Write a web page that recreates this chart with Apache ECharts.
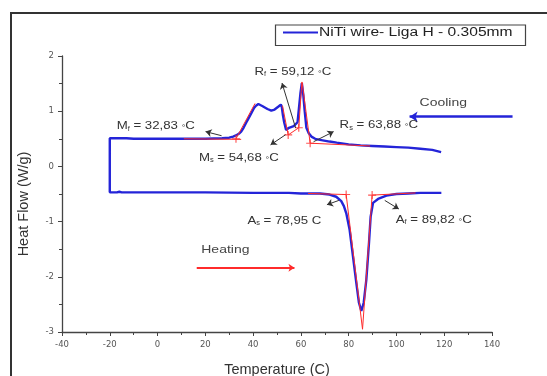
<!DOCTYPE html>
<html>
<head>
<meta charset="utf-8">
<script src="https://cdn.jsdelivr.net/npm/echarts@6/dist/echarts.min.js"></script>
<style>
  html, body { margin: 0; padding: 0; background: #fff; }
  #chart { width: 547px; height: 376px; }
</style>
</head>
<body>
<div id="chart"></div>
<script>
// DSC trace of a NiTi wire: cooling run (120 -> -20 °C) followed by the heating run (-20 -> 120 °C)
const seriesName = 'NiTi wire- Liga H - 0.305mm';

const coolingT = [118.7, 115, 110, 105, 100, 95, 90, 85, 80, 75,
                  72, 68, 66, 64.4, 63.3, 62.3, 61.6, 61.0, 60.4, 59.8,
                  59.2, 58.6, 58.3, 57, 55, 53.8, 53.0, 52.5, 52.0, 51.6,
                  50.5, 49, 47.6, 46, 44, 42.2, 41.2, 40.4, 39.2, 38.2,
                  37.2, 36, 35, 34, 32.8, 31.6, 30, 27, 20, 10,
                  0, -10, -13, -20];
const coolingHF = [0.26, 0.30, 0.32, 0.34, 0.35, 0.36, 0.37, 0.38, 0.40, 0.43,
                   0.45, 0.48, 0.50, 0.54, 0.60, 0.70, 1.00, 1.30, 1.51, 1.32,
                   1.06, 0.80, 0.77, 0.73, 0.70, 0.66, 0.80, 0.92, 1.08, 1.12,
                   1.08, 1.03, 1.01, 1.04, 1.09, 1.13, 1.10, 1.06, 0.96, 0.88,
                   0.80, 0.70, 0.63, 0.59, 0.56, 0.54, 0.52, 0.51, 0.50, 0.50,
                   0.50, 0.50, 0.51, 0.51];

const heatingT = [-20, -17, -16, -15, 0, 20, 40, 55, 60, 65,
                  68, 72, 74.8, 76.9, 78, 79, 80.4, 81.8, 83.2, 84.3,
                  85.3, 86.3, 87.4, 88.5, 89.2, 90.2, 92.3, 95.8, 100, 105,
                  110, 118.8];
const heatingHF = [-0.47, -0.47, -0.46, -0.47, -0.47, -0.47, -0.48, -0.48, -0.49, -0.49,
                   -0.49, -0.51, -0.55, -0.63, -0.72, -0.85, -1.15, -1.63, -2.11, -2.47,
                   -2.62, -2.47, -2.05, -1.39, -0.91, -0.66, -0.59, -0.53, -0.50, -0.49,
                   -0.48, -0.48];

// transformation temperatures from the tangent construction
const transSymbols = ['M', 'M', 'R', 'R', 'A', 'A'];
const transSubs    = ['f', 's', 'f', 's', 's', 'f'];
const transTemps   = [32.83, 54.68, 59.12, 63.88, 78.95, 89.82];
const transUnits   = ['°C', '°C', '°C', '°C', 'C', '°C'];
const transHF      = [0.50, 0.57, 0.70, 0.42, -0.51, -0.52];

// baselines and tangents of the onset / finish construction
const fitLines = [
  [[11, 0.50], [35, 0.49]],
  [[32.83, 0.50], [40.8, 1.14]],
  [[54.68, 0.57], [52.3, 1.10]],
  [[54.68, 0.57], [59.12, 0.70]],
  [[59.12, 0.70], [60.4, 1.53]],
  [[63.88, 0.42], [60.5, 1.53]],
  [[63.88, 0.42], [89, 0.37]],
  [[63, -0.49], [78.95, -0.51]],
  [[78.95, -0.51], [85.8, -2.95]],
  [[89.82, -0.52], [85.8, -2.95]],
  [[89.82, -0.52], [108, -0.48]]
];

// annotation layout (data units): label anchors and pointer arrows
const labelT  = [-17.1, 17.3, 40.6, 76.2, 37.6, 99.7];
const labelHF = [0.728, 0.149, 1.72, 0.746, -0.984, -0.966];
const arrowFrom = [[26.8, 0.556], [53.6, 0.574], [57.8, 0.696], [65.3, 0.447], [75.9, -0.616], [95.1, -0.616]];
const arrowTo   = [[20.1, 0.63], [47.3, 0.39], [52.1, 1.51], [73.7, 0.63], [70.9, -0.694], [101, -0.772]];
const coolingArrow = [[148.6, 0.90], [105.5, 0.90]];
const heatingArrow = [[16.4, -1.835], [57.3, -1.835]];
const directionLabels = [
  { text: 'Cooling', at: [109.7, 1.154] },
  { text: 'Heating', at: [18.3, -1.509] }
];

const BLUE = '#2424d8';
const RED = '#ff2b2b';
const TEXT = '#333';

const curve = coolingT.map((t, i) => [t, coolingHF[i]])
  .concat(heatingT.map((t, i) => [t, heatingHF[i]]));

const plusPath = 'path://M3,0H4V3H7V4H4V7H3V4H0V3H3Z';

const axisCommon = {
  type: 'value',
  nameLocation: 'middle',
  axisLine: { show: true, onZero: false, lineStyle: { color: '#444', width: 1.3 } },
  axisTick: { show: true, length: 4, lineStyle: { color: '#444', width: 1 } },
  minorTick: { show: true, splitNumber: 2, length: 3, lineStyle: { color: '#444', width: 1 } },
  splitLine: { show: false },
  axisLabel: { fontFamily: 'DejaVu Sans', fontSize: 8.5, color: '#555', margin: 8 }
};

const chart = echarts.init(document.getElementById('chart'), null, { renderer: 'canvas' });

chart.setOption({
  animation: false,
  backgroundColor: '#fff',
  grid: { left: 62, right: 55, top: 56, bottom: 44, containLabel: false, outerBoundsMode: 'none' },
  xAxis: Object.assign({}, axisCommon, {
    min: -40, max: 140, interval: 20,
    name: 'Temperature (C)', nameGap: 30,
    nameTextStyle: { fontFamily: 'Liberation Sans', fontSize: 14.5, color: TEXT }
  }),
  yAxis: Object.assign({}, axisCommon, {
    min: -3, max: 2, interval: 1,
    name: 'Heat Flow (W/g)', nameGap: 31,
    nameTextStyle: { fontFamily: 'Liberation Sans', fontSize: 14.5, color: TEXT, padding: [0, 20, 0, 0] }
  }),
  series: [
    {
      type: 'line', name: seriesName, data: curve,
      showSymbol: false, clip: false,
      lineStyle: { color: BLUE, width: 2.4 }, z: 3
    },
    {
      type: 'lines', coordinateSystem: 'cartesian2d',
      data: fitLines.map(c => ({ coords: c })),
      lineStyle: { color: RED, width: 1, opacity: 1 }, z: 4, silent: true
    },
    {
      type: 'scatter', data: transTemps.map((t, i) => [t, transHF[i]]),
      symbol: plusPath, symbolSize: 8, itemStyle: { color: RED }, z: 5, silent: true
    },
    {
      type: 'lines', coordinateSystem: 'cartesian2d',
      data: arrowFrom.map((p, i) => ({ coords: [p, arrowTo[i]] })),
      symbol: ['none', 'arrow'], symbolSize: 6,
      lineStyle: { color: '#333', width: 1, opacity: 1 }, z: 6, silent: true
    },
    {
      type: 'lines', coordinateSystem: 'cartesian2d', clip: false,
      data: [{ coords: coolingArrow }],
      symbol: ['none', 'arrow'], symbolSize: 8,
      lineStyle: { color: BLUE, width: 2.5, opacity: 1 }, z: 6, silent: true
    },
    {
      type: 'lines', coordinateSystem: 'cartesian2d', clip: false,
      data: [{ coords: heatingArrow }],
      symbol: ['none', 'arrow'], symbolSize: 6,
      lineStyle: { color: RED, width: 2, opacity: 1 }, z: 6, silent: true
    }
  ]
});

const toPx = p => chart.convertToPixel({ gridIndex: 0 }, p);
const fmt = v => v.toFixed(2).replace('.', ',');

const graphics = [];

// outer frame
graphics.push({
  type: 'rect', silent: true, z: -10,
  shape: { x: 11, y: 13, width: 580, height: 420 },
  style: { fill: 'none', stroke: '#333', lineWidth: 2 }
});

// legend box
graphics.push({
  type: 'rect', silent: true, z: 20,
  shape: { x: 275.5, y: 25, width: 250, height: 20.5 },
  style: { fill: '#fff', stroke: '#444', lineWidth: 1.2 }
});
graphics.push({
  type: 'line', silent: true, z: 21,
  shape: { x1: 283, y1: 32.5, x2: 318, y2: 32.5 },
  style: { stroke: BLUE, lineWidth: 2 }
});
graphics.push({
  type: 'text', silent: true, z: 21, x: 319, y: 33, scaleX: 1.3,
  style: {
    text: seriesName, fill: '#222',
    font: '12px "Liberation Sans"', verticalAlign: 'middle'
  }
});

// transformation temperature labels
const rich = {
  m: { fontFamily: 'Liberation Sans', fontSize: 11.5, fill: TEXT, verticalAlign: 'bottom' },
  s: { fontFamily: 'Liberation Sans', fontSize: 6.5, fill: TEXT, verticalAlign: 'bottom' },
  d: { fontFamily: 'Liberation Sans', fontSize: 8, fill: TEXT, verticalAlign: 'bottom' }
};
transSymbols.forEach((sym, i) => {
  const [x, y] = toPx([labelT[i], labelHF[i]]);
  const unit = transUnits[i].startsWith('°') ? '{d|°}{m|C}' : '{m|C}';
  graphics.push({
    type: 'text', silent: true, z: 22, x, y, scaleX: 1.15,
    style: {
      text: `{m|${sym}}{s|${transSubs[i]}}{m| = ${fmt(transTemps[i])} }` + unit,
      rich, verticalAlign: 'middle', fill: TEXT
    }
  });
});

// run direction labels
directionLabels.forEach(d => {
  const [x, y] = toPx(d.at);
  graphics.push({
    type: 'text', silent: true, z: 22, x, y, scaleX: 1.27,
    style: { text: d.text, fill: '#444', font: '11px "Liberation Sans"', verticalAlign: 'middle' }
  });
});

chart.setOption({ graphic: graphics });
</script>
</body>
</html>
